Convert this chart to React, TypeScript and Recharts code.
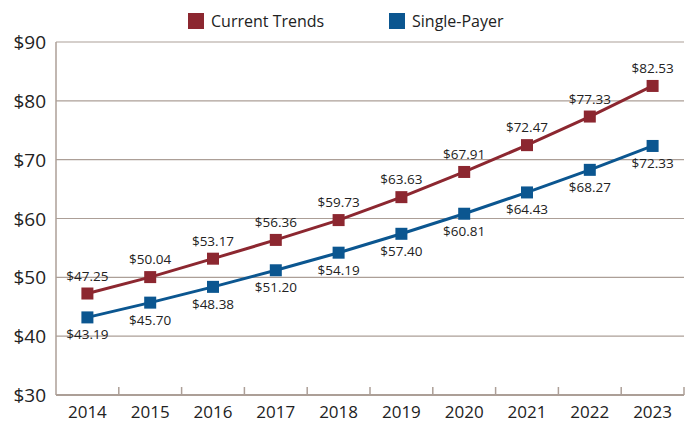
import React from 'react';
import { LineChart, Line, XAxis, YAxis, CartesianGrid, LabelList } from 'recharts';

const years = ['2014', '2015', '2016', '2017', '2018', '2019', '2020', '2021', '2022', '2023'];
const currentTrends = [47.25, 50.04, 53.17, 56.36, 59.73, 63.63, 67.91, 72.47, 77.33, 82.53];
const singlePayer = [43.19, 45.7, 48.38, 51.2, 54.19, 57.4, 60.81, 64.43, 68.27, 72.33];
const yTicks = [30, 40, 50, 60, 70, 80, 90];

const data = years.map((year, i) => ({ year, current: currentTrends[i], single: singlePayer[i] }));

const RED = '#8c2730';
const BLUE = '#0b5690';
const GRID = '#ac9f97';
const FONT = '"Open Sans", sans-serif';

const W = 699;
const H = 426;
const PLOT_LEFT = 56;
const PLOT_RIGHT = 684;
const PLOT_TOP = 42;
const PLOT_BOTTOM = 395;
const band = (PLOT_RIGHT - PLOT_LEFT) / years.length;

const SquareDot = (color: string) => (props: any) => {
  const { cx, cy, index } = props;
  if (cx == null || cy == null) return null;
  return <rect key={index} x={cx - 6} y={cy - 6} width={12} height={12} fill={color} />;
};

const XTick = (props: any) => {
  const { x, payload } = props;
  return (
    <g>
      <line x1={x + band / 2} x2={x + band / 2} y1={PLOT_BOTTOM} y2={PLOT_BOTTOM - 8} stroke={GRID} strokeWidth={1.5} />
      <text x={x} y={PLOT_BOTTOM + 23} textAnchor="middle" fontFamily={FONT} fontSize={17} fill="#222">
        {payload.value}
      </text>
    </g>
  );
};

const YTick = (props: any) => {
  const { y, payload } = props;
  return (
    <text x={PLOT_LEFT - 10} y={y + 7} textAnchor="end" fontFamily={FONT} fontSize={19} fill="#222">
      ${payload.value}
    </text>
  );
};

const makeLabel = (above: boolean) => (props: any) => {
  const { x, y, value, index } = props;
  return (
    <text
      key={index}
      x={x}
      y={above ? y - 13 : y + 22}
      textAnchor="middle"
      fontFamily={FONT}
      fontSize={13.5}
      fill="#222"
    >
      ${Number(value).toFixed(2)}
    </text>
  );
};

const LegendItem = ({ color, label, left }: { color: string; label: string; left: number }) => (
  <div style={{ position: 'absolute', left, top: 10, display: 'flex', alignItems: 'center' }}>
    <div style={{ width: 16, height: 16, background: color, marginRight: 7 }} />
    <span style={{ fontFamily: FONT, fontSize: 16, color: '#222' }}>{label}</span>
  </div>
);

export default function App() {
  return (
    <div style={{ position: 'absolute', left: 0, top: 0, width: W, height: H, background: '#fff' }}>
      <LegendItem color={RED} label="Current Trends" left={188} />
      <LegendItem color={BLUE} label="Single-Payer" left={389} />
      <LineChart
        width={W}
        height={H}
        data={data}
        margin={{ top: PLOT_TOP, right: W - PLOT_RIGHT, bottom: 0, left: 0 }}
      >
        <CartesianGrid vertical={false} stroke={GRID} strokeWidth={1.2} />
        <XAxis
          dataKey="year"
          height={H - PLOT_BOTTOM}
          padding={{ left: band / 2, right: band / 2 }}
          stroke={GRID}
          strokeWidth={2}
          tickLine={false}
          tick={<XTick />}
          interval={0}
        />
        <YAxis
          domain={[30, 90]}
          ticks={yTicks}
          width={PLOT_LEFT}
          stroke={GRID}
          strokeWidth={1.5}
          tickLine={false}
          tick={<YTick />}
        />
        <Line
          dataKey="current"
          stroke={RED}
          strokeWidth={3}
          dot={SquareDot(RED)}
          activeDot={false}
          isAnimationActive={false}
        >
          <LabelList dataKey="current" content={makeLabel(true)} />
        </Line>
        <Line
          dataKey="single"
          stroke={BLUE}
          strokeWidth={3}
          dot={SquareDot(BLUE)}
          activeDot={false}
          isAnimationActive={false}
        >
          <LabelList dataKey="single" content={makeLabel(false)} />
        </Line>
      </LineChart>
    </div>
  );
}
